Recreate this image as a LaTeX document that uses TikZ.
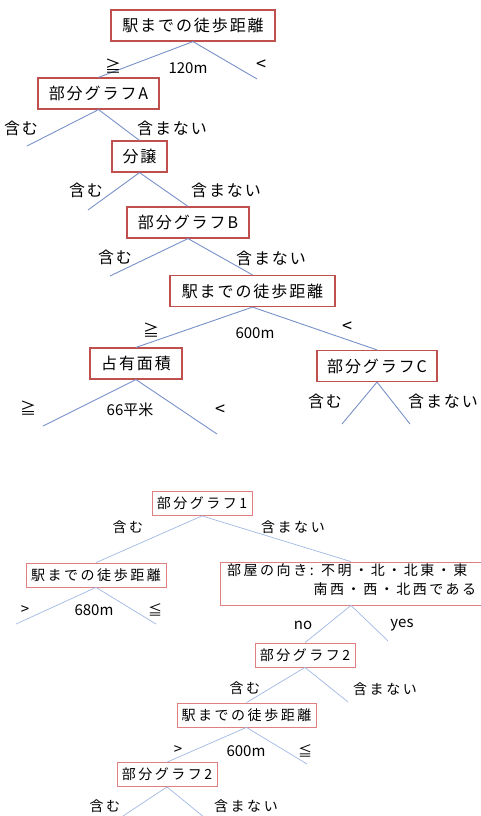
\documentclass[tikz,border=0pt]{standalone}
\usepackage{fontspec}
\newfontfamily\topfont[LetterSpace=12]{Noto Sans CJK JP}
\newfontfamily\botfont[LetterSpace=18]{Noto Sans CJK JP}
\newfontfamily\plainfont{Noto Sans CJK JP}
\definecolor{topred}{RGB}{192,80,77}
\definecolor{botred}{RGB}{222,128,128}
\definecolor{topblue}{RGB}{120,145,200}
\definecolor{botblue}{RGB}{160,184,228}
\tikzset{
  tbox/.style={draw=topred, line width=1.2pt, fill=white, minimum height=31pt, inner xsep=4pt, inner ysep=0pt, font=\topfont\fontsize{16}{18}\selectfont},
  bbox/.style={draw=botred, line width=0.8pt, fill=white, minimum height=24pt, inner xsep=4pt, inner ysep=0pt, font=\botfont\fontsize{14}{16}\selectfont},
  tline/.style={draw=topblue, line width=0.9pt},
  bline/.style={draw=botblue, line width=0.7pt},
  tlbl/.style={inner sep=0pt, font=\topfont\fontsize{16}{18}\selectfont},
  tnum/.style={inner sep=0pt, font=\plainfont\fontsize{15}{17}\selectfont},
  blbl/.style={inner sep=0pt, font=\botfont\fontsize{14}{16}\selectfont},
  bnum/.style={inner sep=0pt, font=\plainfont\fontsize{15}{17}\selectfont},
}
\begin{document}
\begin{tikzpicture}[x=1pt,y=-1pt]
\useasboundingbox (0,0) rectangle (481,816);
% ---------- top tree ----------
\node[tbox, minimum width=164pt] (n1) at (193,25.5) {駅までの徒歩距離};
\node[tbox, minimum width=121pt] (n2) at (98.5,93.5) {部分グラフA};
\node[tbox, minimum width=55pt] (n3) at (139.5,156.5) {分譲};
\node[tbox, minimum width=122pt] (n4) at (188,222.5) {部分グラフB};
\node[tbox, minimum width=165pt] (n5) at (252.5,291) {駅までの徒歩距離};
\node[tbox, minimum width=92pt] (n6) at (136,363.5) {占有面積};
\node[tbox, minimum width=120pt] (n7) at (377,366) {部分グラフC};

\coordinate (n1r) at (257,79);
\coordinate (n2l) at (27,146);
\coordinate (n3l) at (88,210);
\coordinate (n4l) at (110,276);
\coordinate (n6l) at (43,426);
\coordinate (n6r) at (217,434);
\coordinate (n7l) at (342,424);
\coordinate (n7r) at (410,424);

\draw[tline] (n1.south) -- (n2.north);
\draw[tline] (n1.south) -- (n1r);
\draw[tline] (n2.south) -- (n2l);
\draw[tline] (n2.south) -- (n3.north);
\draw[tline] (n3.south) -- (n3l);
\draw[tline] (n3.south) -- (n4.north);
\draw[tline] (n4.south) -- (n4l);
\draw[tline] (n4.south) -- (n5.north);
\draw[tline] (n5.south) -- (n6.north);
\draw[tline] (n5.south) -- (n7.north);
\draw[tline] (n6.south) -- (n6l);
\draw[tline] (n6.south) -- (n6r);
\draw[tline] (n7.south) -- (n7l);
\draw[tline] (n7.south) -- (n7r);

\node[tlbl] (a1) at (113,66) {≧};
\node[tnum] (a2) at (188,68) {120m};
\node[tnum, font=\plainfont\fontsize{18}{18}\selectfont] (a3) at (261,65) {<};
\node[tlbl] (a4) at (21,128) {含む};
\node[tlbl] (a5) at (172,128) {含まない};
\node[tlbl] (a6) at (86,190) {含む};
\node[tlbl] (a7) at (226,190) {含まない};
\node[tlbl] (a8) at (115,257) {含む};
\node[tlbl] (a9) at (271,258) {含まない};
\node[tlbl] (a10) at (151,330) {≧};
\node[tnum] (a11) at (255,333) {600m};
\node[tnum, font=\plainfont\fontsize{18}{18}\selectfont] (a12) at (347,327) {<};
\node[tlbl] (a13) at (28,408) {≧};
\node[tnum] (a14) at (130,410) {66平米};
\node[tnum, font=\plainfont\fontsize{18}{18}\selectfont] (a15) at (220,410) {<};
\node[tlbl] (a16) at (325,401) {含む};
\node[tlbl] (a17) at (443,401) {含まない};

% ---------- bottom tree ----------
\node[bbox, minimum width=100pt] (m1) at (202,503.5) {部分グラフ1};
\node[bbox, minimum width=140pt] (m2) at (96,575) {駅までの徒歩距離};
\node[draw=botred, line width=0.8pt, fill=white, minimum width=262pt, minimum height=43pt, inner sep=0pt] (m3) at (351,583.5) {};
\node[blbl, anchor=west] (m3a) at (227,570.5) {部屋の向き: 不明・北・北東・東};
\node[blbl, anchor=west] (m3b) at (313.5,589) {南西・西・北西である};
\node[bbox, minimum width=100pt] (m4) at (305,655) {部分グラフ2};
\node[bbox, minimum width=139pt] (m5) at (246.5,715) {駅までの徒歩距離};
\node[bbox, minimum width=100pt] (m6) at (167,774.5) {部分グラフ2};

\coordinate (m2l) at (16,624);
\coordinate (m2r) at (156,624);
\coordinate (m3r) at (388,641);
\coordinate (m4r) at (348,702);
\coordinate (m5r) at (307,764);
\coordinate (m6l) at (120,818);
\coordinate (m6r) at (205,818);

\draw[bline] (m1.south) -- (m2.north);
\draw[bline] (m1.south) -- (m3.north);
\draw[bline] (m2.south) -- (m2l);
\draw[bline] (m2.south) -- (m2r);
\draw[bline] (m3.south) -- (m4.north);
\draw[bline] (m3.south) -- (m3r);
\draw[bline] (m4.south) -- (m5.north);
\draw[bline] (m4.south) -- (m4r);
\draw[bline] (m5.south) -- (m6.north);
\draw[bline] (m5.south) -- (m5r);
\draw[bline] (m6.south) -- (m6l);
\draw[bline] (m6.south) -- (m6r);

\node[blbl] (b1) at (128,527) {含む};
\node[blbl] (b2) at (293,527) {含まない};
\node[bnum] (b3) at (25,610) {>};
\node[bnum] (b4) at (94,610) {680m};
\node[blbl] (b5) at (155,610) {≦};
\node[bnum] (b6) at (303,625) {no};
\node[bnum] (b7) at (402,625) {yes};
\node[blbl] (b8) at (245,688) {含む};
\node[blbl] (b9) at (385,689) {含まない};
\node[bnum] (b10) at (178,750) {>};
\node[bnum] (b11) at (246,751) {600m};
\node[blbl] (b12) at (305,751) {≦};
\node[blbl] (b13) at (105,806) {含む};
\node[blbl] (b14) at (246,806) {含まない};
\end{tikzpicture}
\end{document}
